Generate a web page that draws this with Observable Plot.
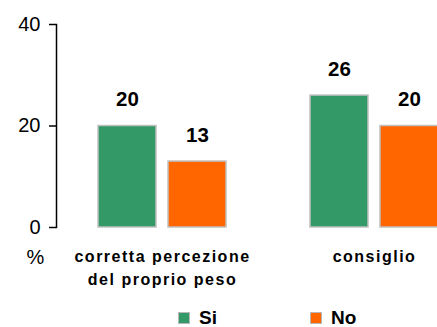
<!DOCTYPE html>
<html><head><meta charset="utf-8">
<script src="https://cdn.jsdelivr.net/npm/d3@7"></script>
<script src="https://cdn.jsdelivr.net/npm/@observablehq/plot@0.6"></script>
<style>
html,body{margin:0;padding:0;background:#fff;overflow:hidden;}
#wrap{position:relative;width:437px;height:327px;overflow:hidden;font-family:'Liberation Sans',Arial,sans-serif;}
#chart{position:absolute;left:0;top:0;width:480px;}
#chart svg{max-width:none !important;}
#legend{position:absolute;left:0;top:306px;height:24px;padding-left:178px;display:flex;align-items:center;}
.item{display:flex;align-items:center;width:132px;}
.sw{width:12px;height:12px;box-sizing:border-box;border:1px solid #b8b8b8;margin-right:9px;}
.lab{font-weight:bold;font-size:19px;color:#000;}
</style></head><body><div id="wrap"><div id="chart"></div><div id="legend"></div></div>
<script>
const categories = ["corretta percezione del proprio peso", "consiglio"];
const categoryLabels = ["corretta percezione\ndel proprio peso", "consiglio"];
const series = ["Si", "No"];
const siValues = [20, 26];
const noValues = [13, 20];
const yTicks = [0, 20, 40];
const colors = ["#339966", "#FF6600"];

const data = categories.flatMap((c, i) => [
  {cat: c, series: "Si", value: siValues[i]},
  {cat: c, series: "No", value: noValues[i]}
]);
const labelRows = categories.map((c, i) => ({cat: c, label: categoryLabels[i]}));

const chart = Plot.plot({
  width: 480, height: 300,
  marginLeft: 56, marginRight: 0, marginTop: 24, marginBottom: 73,
  style: {fontFamily: "'Liberation Sans', Arial, sans-serif", background: "white", color: "black", overflow: "visible", maxWidth: "none"},
  fx: {domain: categories, paddingInner: 0, paddingOuter: 0, axis: null, label: null},
  x: {domain: series, paddingInner: 12 / 70, paddingOuter: 0.6, axis: null, label: null},
  y: {domain: [0, 40], axis: null},
  color: {domain: series, range: colors},
  marks: [
    Plot.barY(data, {fx: "cat", x: "series", y: "value", fill: "series", stroke: "#c0c0c0", strokeWidth: 1.5}),
    Plot.text(data, {fx: "cat", x: "series", y: "value", text: d => String(d.value), lineAnchor: "bottom", dy: -20, fontSize: 20.5, fontWeight: "bold"}),
    Plot.text(labelRows, {fx: "cat", text: "label", frameAnchor: "bottom", lineAnchor: "top", dy: 18, fontSize: 16, fontWeight: "bold", lineHeight: 1.44, ariaDescription: "catlabels"}),
    Plot.axisY({ticks: yTicks, tickSize: 7, tickPadding: 9, fontSize: 20, label: null, strokeWidth: 1.5}),
    Plot.frame({anchor: "left", facetAnchor: "left", strokeWidth: 1.5}),
    Plot.text(["%"], {fx: () => categories[0], frameAnchor: "bottom-left", dx: -30, dy: 36, fontSize: 20})
  ]
});
chart.style.maxWidth = "none";
document.getElementById("chart").appendChild(chart);
d3.select(chart).selectAll('g[aria-description="catlabels"] text').style("letter-spacing", "1.5px");

const legend = d3.select("#legend");
series.forEach((s, i) => {
  const item = legend.append("div").attr("class", "item");
  item.append("div").attr("class", "sw").style("background", colors[i]);
  item.append("span").attr("class", "lab").text(s);
});
</script></body></html>
